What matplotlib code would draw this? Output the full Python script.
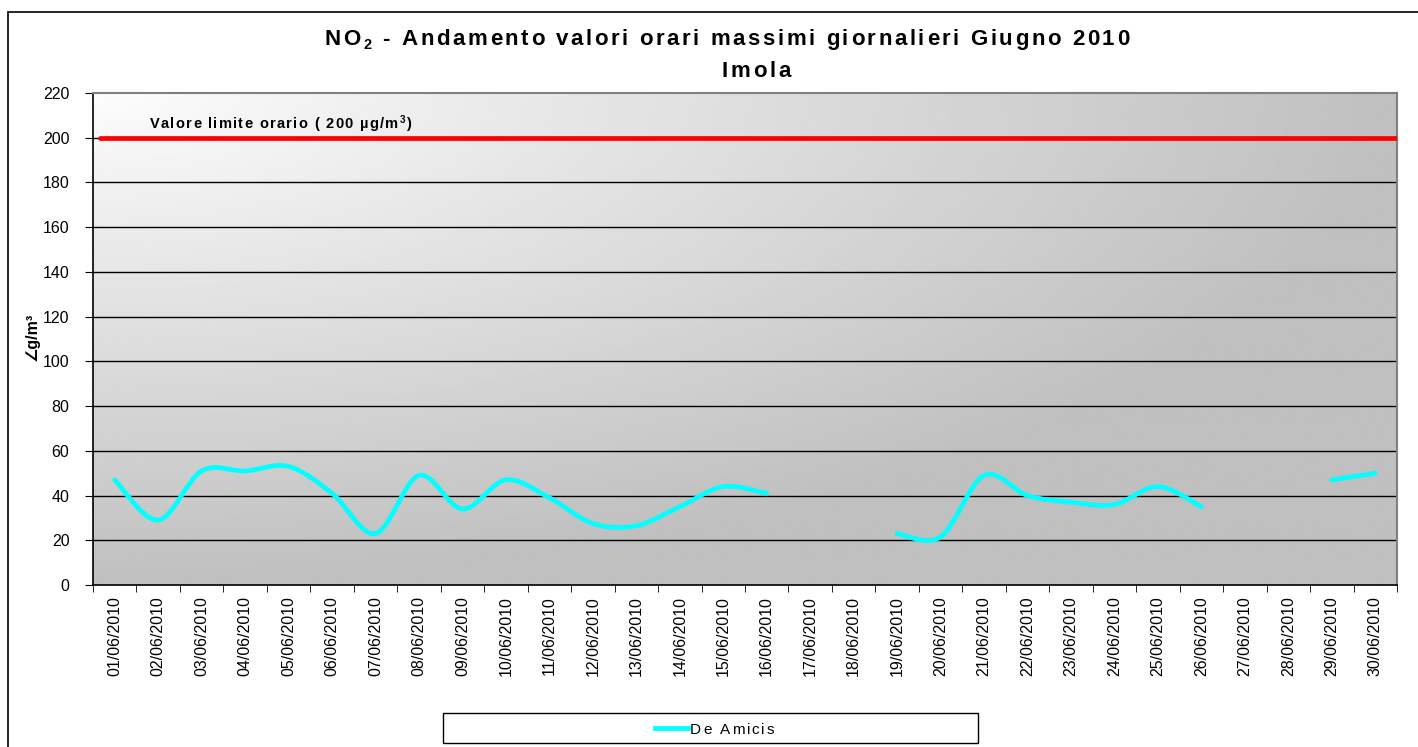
import numpy as np
import matplotlib
matplotlib.use("Agg")
import matplotlib.pyplot as plt
from matplotlib.path import Path
from matplotlib.patches import PathPatch, Rectangle
from matplotlib.lines import Line2D
from matplotlib.font_manager import FontProperties

plt.rcParams['font.family'] = ['Liberation Sans', 'DejaVu Sans']
plt.rcParams['mathtext.default'] = 'regular'

W, H = 1418, 747

# dati: massimi orari giornalieri NO2, giugno 2010 (None = dato mancante)
days = [f"{d:02d}/06/2010" for d in range(1, 31)]
de_amicis = [47, 29, 51, 51, 53, 41, 23, 49, 34, 47,
             39, 27.5, 26.5, 35, 44, 41, None, None, 23, 21.5,
             49, 40, 37, 36, 44, 35, None, None, 47, 50]
limite = 200
y_ticks = list(range(0, 221, 20))


def smooth_path(xs, ys):
    # curva "smussata" tipo Excel (Catmull-Rom con Bezier cubiche)
    pts = np.column_stack([xs, ys]).astype(float)
    verts = [pts[0]]
    codes = [Path.MOVETO]
    n = len(pts)
    for i in range(n - 1):
        p0 = pts[i - 1] if i > 0 else pts[i]
        p1 = pts[i]
        p2 = pts[i + 1]
        p3 = pts[i + 2] if i + 2 < n else pts[i + 1]
        c1 = p1 + (p2 - p0) / 6.0
        c2 = p2 - (p3 - p1) / 6.0
        verts += [c1, c2, p2]
        codes += [Path.CURVE4] * 3
    return Path(verts, codes)


def spaced_text(fig, x, y, runs, track, ha='center', weight='bold'):
    # testo con spaziatura tra le lettere (come nel grafico Excel), coordinate in pixel
    renderer = fig.canvas.get_renderer()
    chars = []
    for s, size, dy in runs:
        prop = FontProperties(family=['Liberation Sans', 'DejaVu Sans'], size=size, weight=weight)
        bar = renderer.get_text_width_height_descent("|", prop, ismath=False)[0]
        for c in s:
            adv = renderer.get_text_width_height_descent(c + "|", prop, ismath=False)[0] - bar
            chars.append((c, size, dy, adv))
    total = sum(a for *_, a in chars) + track * (len(chars) - 1)
    cx = x - total / 2 if ha == 'center' else x
    for c, size, dy, adv in chars:
        fig.text(cx / W, 1 - (y + dy) / H, c, fontsize=size, fontweight=weight,
                 ha='left', va='baseline')
        cx += adv + track


fig = plt.figure(figsize=(W / 100, H / 100), dpi=100)
ax = fig.add_axes([93/W, 1 - 585/H, (1397-93)/W, (585-93)/H])

# sfondo sfumato (chiaro in alto a sinistra)
gx, gy = np.meshgrid(np.linspace(0, 1, 300), np.linspace(0, 1, 200))
dist = np.clip(np.sqrt(gx**2 + gy**2), 0, 1)
shade = 0.99 - 0.24 * dist
ax.imshow(shade, cmap='gray', vmin=0, vmax=1, extent=[0, 1, 0, 1], origin='upper',
          transform=ax.transAxes, aspect='auto', zorder=0, interpolation='bilinear')

ax.set_xlim(-0.5, len(days) - 0.5)
ax.set_ylim(0, 220)

for v in y_ticks[1:-1]:
    ax.axhline(v, color='black', lw=1.0, zorder=1)

# valore limite
ax.plot([-0.35, len(days) - 0.5], [limite, limite], color='#ff0000', lw=3.4,
        solid_capstyle='round', zorder=3)

# serie De Amicis, spezzata dove mancano i dati
seg_x, seg_y = [], []
segments = []
for i, v in enumerate(de_amicis):
    if v is None:
        if seg_x:
            segments.append((seg_x, seg_y))
        seg_x, seg_y = [], []
    else:
        seg_x.append(i)
        seg_y.append(v)
if seg_x:
    segments.append((seg_x, seg_y))
for sx, sy in segments:
    ax.add_patch(PathPatch(smooth_path(sx, sy), facecolor='none', edgecolor='#00ffff',
                           lw=3.4, capstyle='round', zorder=3))

ax.set_yticks(y_ticks)
ax.set_yticklabels([str(v) for v in y_ticks], fontsize=11.5)
ax.set_xticks(range(len(days)))
ax.set_xticklabels(days, rotation=90, fontsize=11.5)
ax.set_xticks(np.arange(-0.5, len(days), 1), minor=True)
ax.tick_params(axis='x', which='major', length=0, pad=8)
ax.tick_params(axis='x', which='minor', length=5, direction='out', color='black')
ax.tick_params(axis='y', length=6, direction='out', pad=11)

for s in ['left', 'bottom']:
    ax.spines[s].set_color('black')
    ax.spines[s].set_linewidth(1.2)
for s in ['top', 'right']:
    ax.spines[s].set_color('#808080')
    ax.spines[s].set_linewidth(1.5)

ax.set_ylabel("∠g/m³", fontsize=11.5, fontweight='bold')
ax.yaxis.set_label_coords(-0.041, 0.505)

# titoli
spaced_text(fig, 727, 45, [("NO", 16, 0), ("2", 10.5, 4), (" - Andamento valori orari massimi giornalieri Giugno 2010", 16, 0)], 2.6)
spaced_text(fig, 756, 77, [("Imola", 16, 0)], 2.8)
spaced_text(fig, 150, 128, [("Valore limite orario ( 200 µg/m", 10.5, 0), ("3", 7, -5), (")", 10.5, 0)],
            1.3, ha='left')

# cornice esterna
fig.patches.append(Rectangle((8/W, -0.1), 1.2, 1.1 - 12/H, transform=fig.transFigure,
                             fill=False, edgecolor='black', lw=1.2))

# legenda
fig.patches.append(Rectangle((443/W, 1 - 743/H), 535/W, 30/H, transform=fig.transFigure,
                             facecolor='white', edgecolor='black', lw=1.0))
fig.lines.append(Line2D([655/W, 688/W], [1 - 728/H, 1 - 728/H], transform=fig.transFigure,
                        color='#00ffff', lw=3.4))
spaced_text(fig, 690, 734, [("De Amicis", 11, 0)], 2.0, ha='left', weight='normal')

fig.savefig("out.png", dpi=100)
